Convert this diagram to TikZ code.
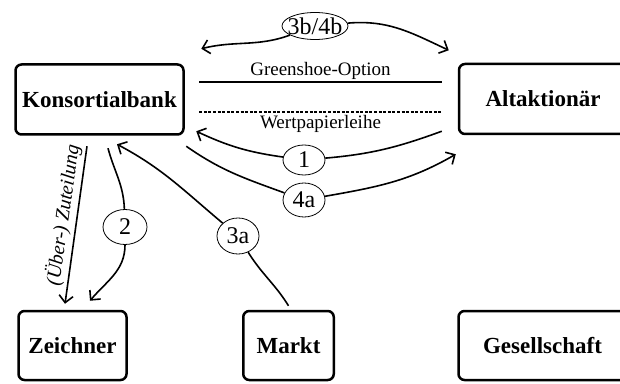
\documentclass[tikz,border=0pt]{standalone}
\usepackage{fontspec}
\setmainfont{Liberation Serif}
\usepackage{tikz}
\usetikzlibrary{shapes.geometric,arrows.meta}

\begin{document}
\begin{tikzpicture}[x=1pt,y=1pt,
    >={Straight Barb[length=7pt,width=14pt]},
    partei/.style={draw, rounded corners=6pt, line width=2.5pt, minimum width=168pt, minimum height=70pt, font=\fontsize{23}{23}\selectfont\bfseries},
    schritt/.style={draw, ellipse, line width=0.8pt, inner sep=0pt, minimum width=42pt, font=\fontsize{24}{24}\selectfont},
    pfeil/.style={line width=1.6pt},
    beschr/.style={font=\fontsize{19}{19}\selectfont}]
    \clip (0,0) rectangle (620,383);
    \node[partei] (kb) at (99.5,283.5) {Konsortialbank};
    \node[partei] (alt) at (543,284) {Altaktionär};
    \node[partei, minimum width=108pt, minimum height=69pt] (zei) at (72.5,37.5) {Zeichner};
    \node[partei, minimum width=90.5pt, minimum height=69pt] (markt) at (288.5,37.5) {Markt};
    \node[partei, minimum height=69pt] (ges) at (542.5,37.5) {Gesellschaft};
    \node[schritt, minimum width=66pt, minimum height=27pt] (s3b) at (315,357) {\makebox[0pt]{3b/4b}};
    \node[schritt, minimum height=30pt] (s1) at (304,223) {1};
    \node[schritt, minimum height=34pt] (s4a) at (304,183) {4a};
    \node[schritt, minimum width=44pt, minimum height=35pt] (s2) at (125,156) {2};
    \node[schritt, minimum height=36pt] (s3a) at (238,147) {3a};
    \draw[line width=2.5pt] ([shift={(14.5,17.5)}]kb.east) -- ([shift={(-16,17)}]alt.west)
        node[midway, above, beschr, inner sep=1.5pt] {Greenshoe-Option};
    \draw[line width=2.5pt, dash pattern=on 3pt off 1.6pt] ([shift={(14.5,-12.5)}]kb.east) -- ([shift={(-16,-13)}]alt.west)
        node[midway, below, beschr, inner sep=2pt] {Wertpapierleihe};
    \draw[pfeil, ->] (s3b) to[out=200, in=14] ([shift={(16.5,14.5)}]kb.north east);
    \draw[pfeil, ->] (s3b) to[out=5, in=155] ([shift={(-9,12.5)}]alt.north west);
    \draw[pfeil, ->] ([shift={(-16,4)}]alt.south west) to[out=200, in=5] (s1)
        to[out=172, in=-25] ([shift={(11.5,4.5)}]kb.south east);
    \draw[pfeil, ->] ([shift={(1.5,-10.5)}]kb.south east) to[out=-35, in=160] (s4a)
        to[out=10, in=210] ([shift={(-2,-19)}]alt.south west);
    \draw[pfeil, <-] ([shift={(-7.5,6)}]zei.north) -- ([shift={(-12.5,-10.5)}]kb.south)
        node[pos=.55, sloped, above, inner sep=3pt, font=\fontsize{20}{20}\selectfont\itshape] {(Über-) Zuteilung};
    \draw[pfeil, ->] ([shift={(8.5,-12.5)}]kb.south) to[out=-75, in=92] (s2)
        to[out=-90, in=50] ([shift={(17.5,9)}]zei.north);
    \draw[pfeil, ->] ([shift={(0,4)}]markt.north) to[out=122, in=-58] (s3a)
        to[out=140, in=-28] ([shift={(17.5,-8.5)}]kb.south);
\end{tikzpicture}
\end{document}
